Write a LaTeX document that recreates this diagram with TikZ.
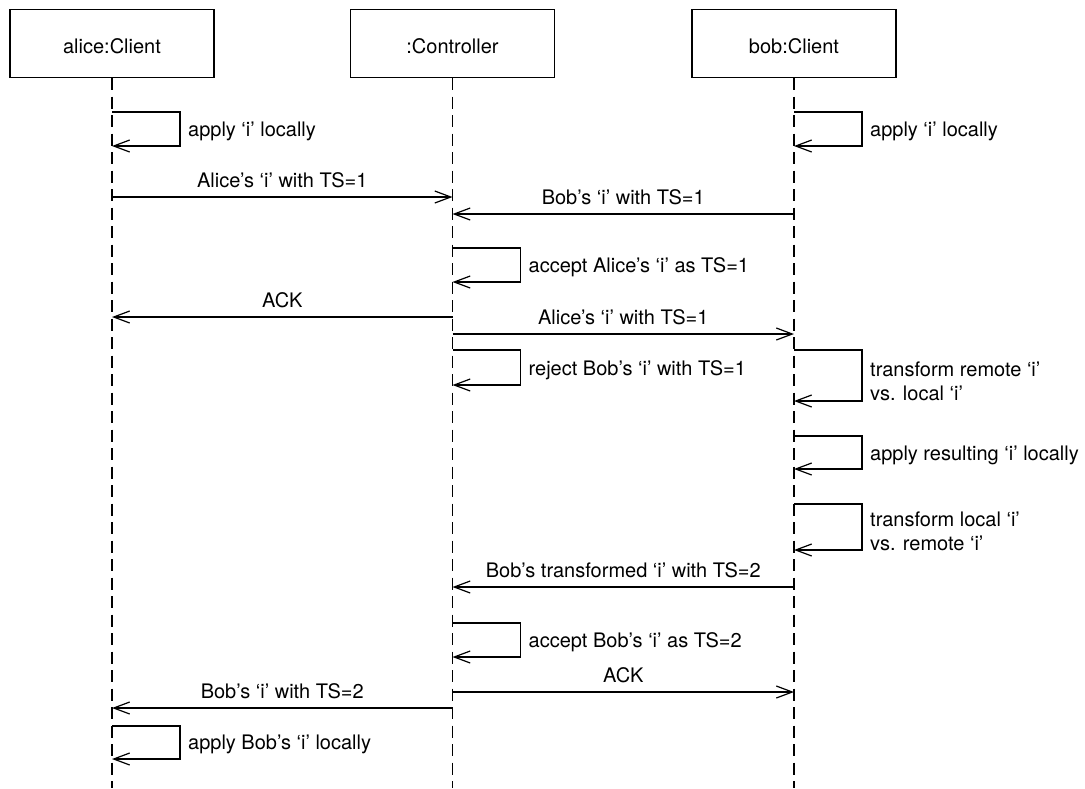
\documentclass[tikz,border=0pt]{standalone}
\usepackage{fontspec}
\setmainfont{TeX Gyre Heros}
\usetikzlibrary{arrows.meta,calc}

\tikzset{
  obj/.style={draw, line width=1.2pt, minimum width=204pt, minimum height=68pt,
    inner sep=0pt, text height=20pt, text depth=0pt, font=\fontsize{20}{24}\selectfont},
  lifeline/.style={line width=1.3pt, dash pattern=on 12pt off 6.5pt},
  msg/.style={line width=1.2pt, -{Straight Barb[length=16pt,width=12pt,line width=1.2pt]}},
  msglbl/.style={above=5pt, inner sep=0pt, text height=14pt, text depth=4pt,
    font=\fontsize{20}{24}\selectfont},
  selflbl/.style={anchor=base west, inner sep=0pt, font=\fontsize{20}{24}\selectfont},
  twolbl/.style={anchor=base west, inner sep=0pt, align=left,
    font=\fontsize{20}{24}\selectfont},
}

% self message: lifeline node, top y, bottom y
\newcommand{\selfmsg}[3]{%
  \draw[msg] (#1.south |- 0,#2) -- ++(68,0) |- (#1.south |- 0,#3);}

\begin{document}
\begin{tikzpicture}[x=1pt,y=-1pt]
\useasboundingbox (0,0) rectangle (1085,788);

% participants
\node[obj] (alice) at (112,43.5) {alice:Client};
\node[obj] (ctrl)  at (452.5,43.5) {:Controller};
\node[obj] (bob)   at (794,43.5) {bob:Client};

% lifelines
\foreach \p in {alice,ctrl,bob}
  \draw[lifeline] (\p.south) -- (\p.south |- 0,788);

% local application on both clients
\selfmsg{alice}{112}{146}
\node[selflbl] (l1) at ($(alice.south |- 0,136)+(76,0)$) {apply ‘i’ locally};
\selfmsg{bob}{112}{146}
\node[selflbl] (l2) at ($(bob.south |- 0,136)+(76,0)$) {apply ‘i’ locally};

% both clients send their operation
\draw[msg] (alice.south |- 0,197) -- node[msglbl] (m1) {Alice’s ‘i’ with TS=1} (ctrl.south |- 0,197);
\draw[msg] (bob.south |- 0,214) -- node[msglbl] (m2) {Bob’s ‘i’ with TS=1} (ctrl.south |- 0,214);

% controller accepts Alice's operation
\selfmsg{ctrl}{248}{282}
\node[selflbl] (l3) at ($(ctrl.south |- 0,272)+(76,0)$) {accept Alice’s ‘i’ as TS=1};

\draw[msg] (ctrl.south |- 0,317) -- node[msglbl] (m3) {ACK} (alice.south |- 0,317);
\draw[msg] (ctrl.south |- 0,334) -- node[msglbl] (m4) {Alice’s ‘i’ with TS=1} (bob.south |- 0,334);

% controller rejects Bob's operation
\selfmsg{ctrl}{350}{385}
\node[selflbl] (l4) at ($(ctrl.south |- 0,375)+(76,0)$) {reject Bob’s ‘i’ with TS=1};

% Bob transforms and re-applies (two-line labels sit on their last baseline)
\selfmsg{bob}{350}{401}
\node[twolbl] (l5) at ($(bob.south |- 0,400)+(76,0)$) {transform remote ‘i’\\vs. local ‘i’};
\selfmsg{bob}{436}{469}
\node[selflbl] (l6) at ($(bob.south |- 0,460)+(76,0)$) {apply resulting ‘i’ locally};
\selfmsg{bob}{504}{550}
\node[twolbl] (l7) at ($(bob.south |- 0,550)+(76,0)$) {transform local ‘i’\\vs. remote ‘i’};

\draw[msg] (bob.south |- 0,587) -- node[msglbl] (m5) {Bob’s transformed ‘i’ with TS=2} (ctrl.south |- 0,587);

% controller accepts Bob's transformed operation
\selfmsg{ctrl}{623}{657}
\node[selflbl] (l8) at ($(ctrl.south |- 0,647)+(76,0)$) {accept Bob’s ‘i’ as TS=2};

\draw[msg] (ctrl.south |- 0,692) -- node[msglbl] (m6) {ACK} (bob.south |- 0,692);
\draw[msg] (ctrl.south |- 0,708) -- node[msglbl] (m7) {Bob’s ‘i’ with TS=2} (alice.south |- 0,708);

% Alice applies Bob's operation
\selfmsg{alice}{726}{759}
\node[selflbl] (l9) at ($(alice.south |- 0,749)+(76,0)$) {apply Bob’s ‘i’ locally};
\end{tikzpicture}
\end{document}
